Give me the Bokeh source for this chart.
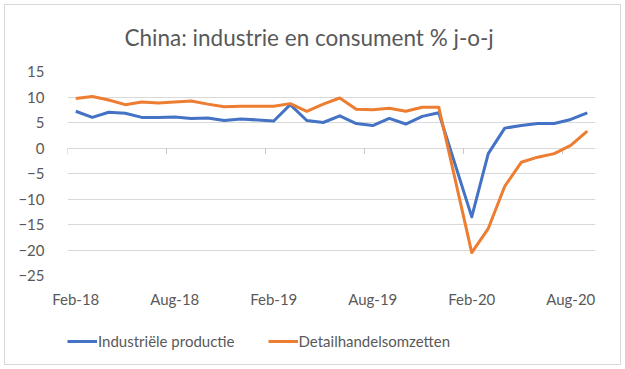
from bokeh.plotting import figure
from bokeh.layouts import column
from bokeh.models import ColumnDataSource, FixedTicker, Legend, LegendItem, Range1d
from bokeh.embed import file_html
from bokeh.resources import INLINE

# ---- data ----
months = ["Feb-18", "Mar-18", "Apr-18", "May-18", "Jun-18", "Jul-18", "Aug-18", "Sep-18",
          "Oct-18", "Nov-18", "Dec-18", "Jan-19", "Feb-19", "Mar-19", "Apr-19", "May-19",
          "Jun-19", "Jul-19", "Aug-19", "Sep-19", "Oct-19", "Nov-19", "Dec-19", "Jan-20",
          "Feb-20", "Mar-20", "Apr-20", "May-20", "Jun-20", "Jul-20", "Aug-20", "Sep-20"]
industrie = [7.2, 6.0, 7.0, 6.8, 6.0, 6.0, 6.1, 5.8, 5.9, 5.4, 5.7, None,
             5.3, 8.5, 5.4, 5.0, 6.3, 4.8, 4.4, 5.8, 4.7, 6.2, 6.9, None,
             -13.5, -1.1, 3.9, 4.4, 4.8, 4.8, 5.6, 6.9]
detailhandel = [9.7, 10.1, 9.4, 8.5, 9.0, 8.8, 9.0, 9.2, 8.6, 8.1, 8.2, None,
                8.2, 8.7, 7.2, 8.6, 9.8, 7.6, 7.5, 7.8, 7.2, 8.0, 8.0, None,
                -20.5, -15.8, -7.5, -2.8, -1.8, -1.1, 0.5, 3.3]
label_every = 6
y_ticks = [-25, -20, -15, -10, -5, 0, 5, 10, 15]
series_names = ["Industriële productie", "Detailhandelsomzetten"]
title_text = "China: industrie en consument % j-o-j"

FONT = "Lato"
GREY = "#595959"
GRID = "#D9D9D9"
BLUE = "#4472C4"
ORANGE = "#ED7D31"
COLORS = [BLUE, ORANGE]


def src(vals):
    xs = [i for i, v in enumerate(vals) if v is not None]
    ys = [v for v in vals if v is not None]
    return ColumnDataSource(dict(x=xs, y=ys))


sources = [src(industrie), src(detailhandel)]

n = len(months)
p = figure(frame_width=528, frame_height=204, output_backend="svg", toolbar_location=None,
           x_range=Range1d(-0.5, n - 0.5), y_range=Range1d(y_ticks[0], y_ticks[-1]),
           min_border_left=67, min_border_right=30, min_border_top=71, min_border_bottom=50)
p.outline_line_color = None
p.border_fill_color = None

p.title.text = title_text
p.title.align = "left"
p.title.text_font = FONT
p.title.text_font_size = "22.5px"
p.title.text_font_style = "normal"
p.title.text_color = GREY
p.title.offset = 57
p.title.standoff = 42

# grid
p.xgrid.visible = False
p.ygrid.grid_line_color = GRID
p.ygrid.grid_line_width = 1
p.yaxis.ticker = FixedTicker(ticks=y_ticks)

# y axis
p.yaxis.axis_line_color = None
p.yaxis.major_tick_line_color = None
p.yaxis.minor_tick_line_color = None
p.yaxis.major_label_text_font = FONT
p.yaxis.major_label_text_font_size = "15px"
p.yaxis.major_label_text_color = GREY
p.yaxis.major_label_standoff = 17

# x axis (labels at bottom, every 6 months)
xt = list(range(0, n, label_every))
p.xaxis.ticker = FixedTicker(ticks=xt)
p.xaxis.major_label_overrides = {i: months[i] for i in xt}
p.xaxis.axis_line_color = None
p.xaxis.major_tick_line_color = None
p.xaxis.minor_tick_line_color = None
p.xaxis.major_label_text_font = FONT
p.xaxis.major_label_text_font_size = "15px"
p.xaxis.major_label_text_color = GREY
p.xaxis.major_label_standoff = 8

# horizontal axis line at zero with tick marks between categories
bx = [t - 0.5 for t in range(0, n, label_every)]
p.segment(x0=bx, x1=bx, y0=[0] * len(bx), y1=[-1.2] * len(bx), line_color="#C8C8C8", line_width=1)

for s, c in zip(sources, COLORS):
    p.line("x", "y", source=s, line_color=c, line_width=3, line_join="round")

# legend strip below the chart (same series, drawn out of view; only the legend shows)
lg = figure(width=625, height=44, output_backend="svg", toolbar_location=None,
            x_range=Range1d(1000, 1001), y_range=Range1d(1000, 1001),
            min_border_left=0, min_border_right=0, min_border_top=0, min_border_bottom=0)
lg.axis.visible = False
lg.grid.visible = False
lg.outline_line_color = None
lg.border_fill_color = None
lg.background_fill_color = None
lr = [lg.line("x", "y", source=s, line_color=c, line_width=3) for s, c in zip(sources, COLORS)]

legend = Legend(items=[LegendItem(label=nm, renderers=[r]) for nm, r in zip(series_names, lr)],
                orientation="horizontal", location=(0, 18))
legend.border_line_color = None
legend.background_fill_alpha = 0
legend.label_text_font = FONT
legend.label_text_font_size = "15px"
legend.label_text_color = GREY
legend.glyph_width = 30
legend.label_standoff = 1
legend.spacing = 33
legend.margin = 0
legend.padding = 0
lg.add_layout(legend)

layout = column(p, lg, spacing=0)
layout.styles = {"outline": "1px solid #D9D9D9", "outline-offset": "-5px"}
open("out.html", "w").write(file_html(layout, INLINE))
